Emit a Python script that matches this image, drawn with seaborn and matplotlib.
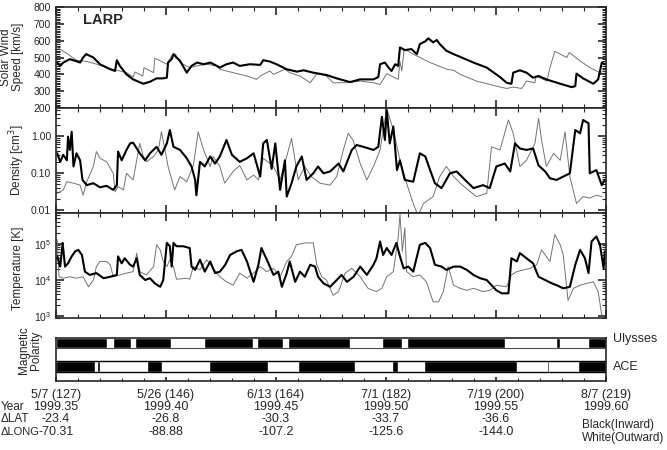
import numpy as np
import pandas as pd
import matplotlib
matplotlib.use('Agg')
from matplotlib import pyplot as plt
from matplotlib import transforms
from matplotlib.patches import Rectangle
from matplotlib.ticker import FixedLocator, LogLocator, NullFormatter, MultipleLocator
import seaborn as sns

# 時刻（年通算日）と各パネルのデータ
speed_blk_day = [127.2, 127.7, 128.2, 129.3, 130.2, 131.0, 131.5, 132.0, 133.2, 134.3, 136.0, 136.8, 137.1,
                 137.6, 138.7, 139.8, 141.5, 142.6, 143.7, 144.8, 145.4, 145.6, 146.2, 146.5, 147.0, 147.6,
                 148.7, 149.5, 150.4, 151.5, 152.6, 153.7, 154.2, 155.3, 156.4, 157.5, 159.2, 160.9, 161.4,
                 162.5, 163.6, 165.3, 167.0, 168.1, 169.7, 171.9, 173.6, 175.8, 177.5, 179.7, 180.5, 180.8,
                 181.6, 182.2, 182.7, 183.3, 183.8, 184.1, 184.9, 186.0, 186.9, 187.4, 188.3, 188.8, 189.6,
                 190.2, 190.7, 191.8, 193.0, 194.6, 196.3, 198.5, 200.7, 201.8, 202.6, 202.9, 204.0, 205.1,
                 206.2, 207.1, 208.4, 210.7, 212.6, 213.2, 213.4, 214.5, 216.2, 217.0, 217.6, 218.1]
speed_blk = [470, 450, 470, 490, 480, 470, 500, 520, 500, 460, 430, 420, 484,
             450, 400, 370, 344, 356, 376, 376, 380, 470, 490, 520, 500, 480,
             410, 450, 470, 460, 470, 450, 440, 460, 470, 450, 460, 456, 484,
             476, 460, 430, 416, 424, 410, 396, 376, 354, 370, 370, 384, 460,
             470, 440, 420, 460, 450, 560, 544, 550, 520, 580, 596, 614, 590,
             604, 580, 540, 520, 496, 470, 440, 384, 350, 344, 410, 424, 410,
             380, 390, 370, 344, 324, 330, 404, 376, 344, 370, 470, 460]

speed_gry_day = [127.2, 128.8, 130.4, 132.1, 133.8, 135.4, 137.1, 138.7, 139.8, 140.1, 141.4, 141.6, 143.2,
                 143.4, 145.4, 146.2, 146.8, 147.6, 149.2, 150.4, 152.0, 153.7, 154.2, 156.4, 158.7, 160.3,
                 160.9, 162.5, 163.1, 165.0, 165.8, 167.5, 169.2, 170.3, 171.9, 173.0, 175.3, 177.5, 179.7,
                 180.8, 181.9, 183.8, 184.1, 184.4, 184.8, 186.3, 189.1, 191.9, 193.0, 194.1, 196.8, 200.1,
                 201.8, 202.9, 204.3, 205.1, 206.5, 206.7, 208.5, 209.0, 209.8, 211.8, 212.2, 214.0, 215.6,
                 217.3, 217.9]
speed_gry = [560, 524, 484, 476, 460, 440, 424, 410, 384, 414, 390, 440, 410,
             496, 460, 510, 520, 470, 440, 450, 460, 450, 430, 410, 390, 370,
             390, 420, 400, 430, 410, 390, 350, 404, 390, 350, 350, 360, 350,
             340, 404, 370, 476, 420, 550, 520, 470, 430, 424, 400, 360, 330,
             316, 324, 316, 360, 350, 390, 360, 440, 536, 500, 530, 480, 440,
             410, 420]

dens_blk_day = [127.2, 127.7, 128.2, 128.8, 129.0, 129.3, 129.6, 129.9, 130.4, 131.0, 131.4, 132.1, 133.2,
                134.3, 135.4, 136.5, 137.1, 137.3, 137.9, 138.7, 139.3, 139.8, 140.9, 141.8, 142.6, 143.7,
                144.5, 145.4, 145.9, 146.5, 147.6, 148.7, 149.5, 150.1, 150.3, 150.9, 151.7, 152.6, 153.4,
                154.2, 155.3, 156.2, 157.5, 158.7, 159.8, 160.9, 161.4, 162.0, 162.8, 163.4, 164.2, 165.0,
                165.3, 166.1, 166.9, 167.8, 168.6, 169.7, 170.5, 171.4, 172.5, 173.9, 174.7, 176.1, 176.9,
                178.0, 179.7, 180.5, 181.1, 181.6, 181.9, 182.4, 183.0, 183.6, 184.1, 184.9, 186.3, 187.4,
                188.3, 189.1, 189.9, 191.0, 192.4, 193.5, 194.9, 196.3, 197.9, 199.0, 200.1, 201.5, 202.4,
                203.2, 204.0, 205.1, 206.2, 207.1, 208.2, 209.0, 210.1, 211.2, 212.3, 213.2, 214.0, 214.5,
                215.4, 215.6, 216.7, 217.6, 218.1]
dens_blk = [0.34, 0.20, 0.31, 0.22, 0.96, 0.42, 1.3, 0.15, 0.34, 0.22, 0.065, 0.047, 0.053,
            0.041, 0.045, 0.035, 0.047, 0.38, 0.22, 0.42, 0.63, 0.66, 0.34, 0.22, 0.34, 0.51,
            0.31, 0.63, 1.45, 0.51, 0.42, 0.25, 0.15, 0.065, 0.025, 0.20, 0.15, 0.28, 0.18,
            0.28, 0.78, 0.31, 0.20, 0.25, 0.34, 0.08, 0.63, 0.78, 0.13, 0.63, 0.035, 0.22,
            0.023, 0.053, 0.15, 0.28, 0.065, 0.098, 0.15, 0.098, 0.11, 0.18, 0.11, 0.42, 0.57,
            0.51, 0.42, 0.51, 3.3, 0.78, 5.0, 0.63, 1.8, 0.12, 0.22, 0.065, 0.058, 0.34,
            0.28, 0.12, 0.053, 0.039, 0.098, 0.11, 0.065, 0.039, 0.047, 0.039, 0.15, 0.18, 0.11,
            0.63, 0.46, 0.42, 0.46, 0.16, 0.11, 0.072, 0.065, 0.08, 0.098, 1.45, 1.18, 2.7,
            2.2, 0.098, 0.12, 0.047, 0.065]

dens_gry_day = [127.2, 128.2, 128.8, 129.9, 131.0, 131.5, 132.1, 133.2, 133.7, 134.3, 135.4, 136.5, 136.8,
                137.3, 138.2, 138.7, 139.8, 140.9, 141.5, 142.0, 143.2, 144.0, 144.5, 145.1, 145.6, 146.7,
                147.6, 148.7, 149.8, 150.6, 151.5, 152.6, 153.1, 154.2, 155.0, 156.4, 157.5, 158.7, 159.8,
                160.6, 161.4, 163.1, 164.2, 165.3, 166.1, 167.2, 168.3, 169.4, 170.8, 172.5, 173.6, 174.7,
                175.5, 176.3, 177.5, 178.6, 179.7, 180.8, 181.9, 183.0, 184.1, 185.2, 186.3, 187.1, 188.0,
                189.6, 190.7, 191.8, 193.0, 194.1, 195.4, 196.8, 198.5, 199.3, 200.7, 202.1, 202.9, 204.0,
                205.1, 206.5, 207.1, 207.6, 208.4, 209.6, 210.7, 211.5, 212.3, 213.4, 214.5, 215.6, 216.7,
                217.6]
dens_gry = [0.028, 0.035, 0.058, 0.053, 0.047, 0.025, 0.058, 0.15, 0.38, 0.25, 0.20, 0.098, 0.031,
            0.043, 0.035, 0.098, 0.065, 0.63, 0.28, 0.20, 0.28, 0.42, 1.3, 0.42, 0.15, 0.035,
            0.08, 0.058, 0.16, 1.3, 0.42, 0.15, 0.28, 0.15, 0.053, 0.11, 0.16, 0.065, 0.088,
            0.065, 0.25, 0.15, 0.065, 0.28, 0.86, 0.065, 0.15, 0.08, 0.053, 0.047, 0.08, 0.42,
            1.18, 0.78, 0.18, 0.065, 0.15, 0.42, 5.6, 1.45, 0.22, 0.053, 0.015, 0.007, 0.015,
            0.023, 0.08, 0.15, 0.08, 0.053, 0.035, 0.023, 0.028, 0.51, 0.42, 2.7, 1.18, 0.15,
            0.22, 0.63, 3.0, 0.78, 0.15, 0.34, 0.22, 1.3, 0.08, 0.015, 0.023, 0.021, 0.025,
            0.023]

temp_blk_day = [127.2, 127.7, 128.1, 128.5, 129.0, 129.6, 130.2, 130.7, 131.3, 131.8, 132.6, 133.7, 134.9,
                136.0, 137.1, 137.3, 137.9, 138.4, 139.3, 139.8, 140.4, 140.9, 141.8, 142.6, 143.4, 144.3,
                144.8, 145.4, 145.9, 146.2, 146.5, 147.0, 148.1, 149.2, 149.5, 150.1, 150.9, 151.7, 152.6,
                153.4, 154.2, 155.1, 155.9, 157.0, 157.8, 158.7, 159.8, 160.6, 161.1, 162.0, 163.1, 163.9,
                164.5, 165.3, 165.8, 166.7, 167.5, 168.3, 169.2, 170.0, 170.5, 171.4, 172.5, 173.6, 174.4,
                175.3, 176.4, 177.5, 178.6, 179.7, 180.2, 180.8, 181.3, 181.9, 182.7, 183.5, 184.1, 184.7,
                185.5, 186.3, 187.4, 188.3, 189.1, 189.9, 191.0, 191.8, 193.0, 194.1, 195.2, 196.3, 197.4,
                198.5, 199.3, 200.1, 201.0, 202.1, 202.6, 203.5, 204.0, 205.1, 206.2, 207.1, 208.2, 209.3,
                210.1, 211.2, 212.3, 213.2, 214.0, 214.8, 215.4, 215.9, 216.7, 217.3, 217.9, 218.1]
temp_blk = [44700, 23400, 105000, 23400, 28800, 44700, 61700, 67600, 49000, 17000, 13800, 15500, 11200,
            12300, 13800, 44700, 28800, 39800, 26300, 23400, 39800, 13800, 10000, 11200, 8100, 6500,
            10000, 105000, 85100, 23400, 105000, 85100, 85100, 75900, 23400, 19000, 36300, 17000, 32400,
            15500, 17000, 26300, 49000, 61700, 67600, 32400, 8900, 26300, 75900, 36300, 13800, 17000,
            6500, 15500, 32400, 8900, 17000, 12300, 26300, 23400, 12300, 8100, 6500, 10000, 13800,
            8900, 12300, 23400, 13800, 26300, 39800, 115000, 49000, 75900, 49000, 105000, 44700, 21000,
            23400, 17000, 93300, 105000, 75900, 26300, 23400, 19000, 23400, 23400, 19000, 13800, 11200,
            10000, 7200, 5200, 4300, 4300, 39800, 32400, 55000, 39800, 28800, 12300, 10000, 8100,
            7200, 5900, 6500, 26300, 67600, 39800, 15500, 115000, 158000, 93300, 21000, 61700]

temp_gry_day = [127.2, 127.5, 128.2, 129.3, 130.4, 131.5, 132.4, 133.2, 133.7, 134.3, 135.4, 136.0, 136.5,
                137.6, 138.7, 139.8, 140.4, 140.9, 142.0, 143.2, 143.7, 144.3, 144.8, 145.4, 145.9, 146.5,
                147.0, 148.7, 149.2, 149.8, 150.9, 152.0, 153.1, 154.2, 155.3, 156.4, 157.5, 158.7, 159.8,
                160.9, 162.0, 163.1, 164.2, 165.3, 166.1, 166.9, 168.3, 169.7, 170.3, 171.1, 171.9, 173.0,
                173.9, 175.0, 176.1, 177.5, 178.8, 180.2, 181.1, 181.9, 183.0, 183.8, 184.1, 184.5, 184.9,
                185.2, 186.3, 187.4, 188.5, 189.6, 190.5, 191.3, 192.1, 193.0, 194.1, 195.2, 196.3, 197.9,
                199.0, 200.1, 201.8, 202.6, 203.5, 204.6, 205.7, 206.8, 207.6, 209.0, 209.8, 210.7, 211.2,
                212.0, 212.9, 214.0, 215.1, 216.2, 217.0, 217.6]
temp_gry = [129000, 12300, 11200, 12300, 11200, 12300, 6500, 10000, 23400, 32400, 32400, 26300, 12300,
            13800, 15500, 17000, 55000, 17000, 13800, 23400, 93300, 67600, 32400, 23400, 36300, 23400,
            10500, 11200, 10500, 23400, 19000, 36300, 21000, 12300, 8900, 7200, 15500, 11200, 15500,
            23400, 17000, 21000, 12300, 32400, 44700, 93300, 105000, 105000, 26300, 12300, 10000, 3800,
            4800, 15500, 21000, 12300, 5900, 4800, 5900, 12300, 17000, 145000, 646000, 61700, 275000,
            17000, 12300, 13800, 8900, 2500, 2500, 4800, 23400, 7200, 5900, 5200, 5900, 4800,
            5200, 7200, 6500, 13800, 17000, 19000, 21000, 26300, 67600, 32400, 178000, 93300, 49000,
            2750, 5900, 7200, 8100, 8900, 4800, 1070]

# 磁場極性（黒=Inward の区間）
uly_start = [127.0, 136.5, 140.1, 151.6, 160.4, 165.5, 181.1, 185.3, 206.2, 206.6, 210.0, 215.3]
uly_end = [135.5, 139.5, 146.1, 159.7, 164.7, 175.8, 184.4, 201.5, 206.3, 206.8, 210.7, 218.3]
ace_start = [127.0, 133.8, 142.1, 152.4, 167.2, 182.8, 188.1, 208.5, 213.7]
ace_end = [133.5, 134.3, 144.6, 162.2, 176.6, 183.8, 203.5, 208.8, 218.3]

# 下の表
tick_days = [127, 145.26, 163.52, 181.78, 200.04, 218.3]
date_labels = ['5/7 (127)', '5/26 (146)', '6/13 (164)', '7/1 (182)', '7/19 (200)', '8/7 (219)']
year_labels = ['1999.35', '1999.40', '1999.45', '1999.50', '1999.55', '1999.60']
dlat_labels = ['-23.4', '-26.8', '-30.3', '-33.7', '-36.6']
dlong_labels = ['-70.31', '-88.88', '-107.2', '-125.6', '-144.0']

sns.set_style('ticks')
plt.rcParams['font.family'] = ['Liberation Sans', 'DejaVu Sans']
plt.rcParams['axes.linewidth'] = 1.2

W, H = 667, 450
fig = plt.figure(figsize=(W / 100, H / 100), dpi=100)


def box(l, t, r, b):
    return [l / W, 1 - b / H, (r - l) / W, (b - t) / H]


ax1 = fig.add_axes(box(56, 7, 606, 108))
ax2 = fig.add_axes(box(56, 108, 606, 213))
ax3 = fig.add_axes(box(56, 213, 606, 318))
ax4 = fig.add_axes(box(56, 338, 606, 381))

gray = '0.45'
sns.lineplot(x=speed_gry_day, y=speed_gry, ax=ax1, color=gray, lw=0.7, estimator=None, sort=False)
sns.lineplot(x=speed_blk_day, y=speed_blk, ax=ax1, color='black', lw=1.5, estimator=None, sort=False)
sns.lineplot(x=dens_gry_day, y=dens_gry, ax=ax2, color=gray, lw=0.7, estimator=None, sort=False)
sns.lineplot(x=dens_blk_day, y=dens_blk, ax=ax2, color='black', lw=1.5, estimator=None, sort=False)
sns.lineplot(x=temp_gry_day, y=temp_gry, ax=ax3, color=gray, lw=0.7, estimator=None, sort=False)
sns.lineplot(x=temp_blk_day, y=temp_blk, ax=ax3, color='black', lw=1.5, estimator=None, sort=False)

major_x = FixedLocator(tick_days)
minor_x = FixedLocator(np.arange(127, 218.4, 3.652))

for ax in (ax1, ax2, ax3, ax4):
    ax.set_xlim(127, 218.3)
    ax.xaxis.set_major_locator(major_x)
    ax.xaxis.set_minor_locator(minor_x)
    ax.set_xlabel('')
    ax.set_ylabel('')
    ax.tick_params(which='both', direction='in', top=True, right=True, labelbottom=False, labelsize=7.5)
    ax.tick_params(which='major', length=6, width=1.2)
    ax.tick_params(which='minor', length=3, width=0.8)

ax1.set_ylim(200, 800)
ax1.yaxis.set_major_locator(MultipleLocator(100))
ax1.yaxis.set_minor_locator(MultipleLocator(10))

ax2.set_yscale('log')
ax2.set_ylim(0.0083, 5.7)
ax2.set_yticks([0.01, 0.1, 1.0], ['0.01', '0.10', '1.00'])
ax2.yaxis.set_minor_locator(LogLocator(subs=np.arange(2, 10)))
ax2.yaxis.set_minor_formatter(NullFormatter())

ax3.set_yscale('log')
ax3.set_ylim(900, 7e5)
ax3.yaxis.set_major_locator(LogLocator())
ax3.yaxis.set_minor_locator(LogLocator(subs=np.arange(2, 10)))
ax3.yaxis.set_minor_formatter(NullFormatter())

ax1.text(0.049, 0.87, 'LARP', transform=ax1.transAxes, fontsize=10.5, fontweight='bold', va='center')

# 極性バー
ax4.set_ylim(0, 1)
ax4.set_yticks([])
ax4.tick_params(which='both', top=False, right=False, left=False)
ax4.tick_params(which='major', length=3)
ax4.tick_params(which='minor', length=2)
ax4.broken_barh([(s, e - s) for s, e in zip(uly_start, uly_end)], (0.77, 0.23), facecolors='black')
ax4.broken_barh([(s, e - s) for s, e in zip(ace_start, ace_end)], (0.21, 0.26), facecolors='black')
ax4.axhline(0.77, color='0.3', lw=0.8)
ax4.add_patch(Rectangle((127, 0.21), 91.3, 0.26, fill=False, edgecolor='black', lw=1.0))

# y軸ラベル
def ylab(x, y, s):
    fig.text(x / W, 1 - y / H, s, rotation=90, ha='center', va='center', fontsize=8.5,
             linespacing=0.95)


ylab(12, 57, 'Solar Wind\nSpeed [km/s]')
ylab(17, 160, 'Density [cm$^3$]')
ylab(18, 268, 'Temperature [K]')
ylab(30, 350, 'Magnetic\nPolarity')

fig.text(613 / W, 1 - 339 / H, 'Ulysses', fontsize=9, va='center')
fig.text(613 / W, 1 - 367 / H, 'ACE', fontsize=9, va='center')

# 下の表
tr = transforms.blended_transform_factory(ax4.transData, fig.transFigure)
rows = [(395, date_labels), (407, year_labels), (419, dlat_labels), (432, dlong_labels)]
for y, labels in rows:
    for d, s in zip(tick_days, labels):
        ax4.text(d, 1 - y / H, s, transform=tr, ha='center', va='center', fontsize=9, clip_on=False)

fig.text(1 / W, 1 - 407 / H, 'Year', fontsize=8.5, va='center')
fig.text(1 / W, 1 - 419 / H, '\u0394LAT', fontsize=8.5, va='center')
fig.text(1 / W, 1 - 432 / H, '\u0394LONG', fontsize=8, va='center')
fig.text(582 / W, 1 - 425 / H, 'Black(Inward)', fontsize=8.5, va='center')
fig.text(582 / W, 1 - 438 / H, 'White(Outward)', fontsize=8.5, va='center')

fig.savefig('out.png', dpi=100)
